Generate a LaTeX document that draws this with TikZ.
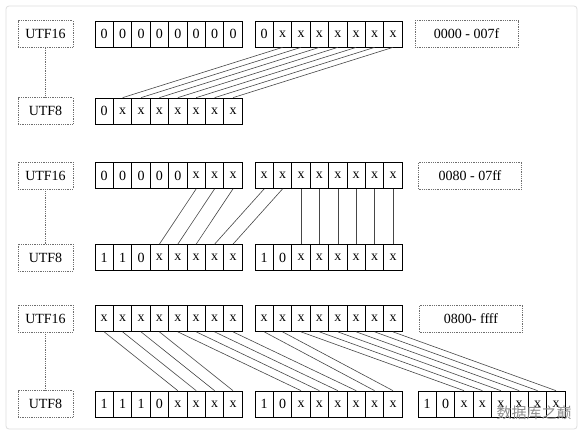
\documentclass[tikz,border=0pt]{standalone}
\usepackage{fontspec}
\setmainfont{Liberation Serif}
\newfontfamily\cjkfont{Noto Sans CJK SC}
\usetikzlibrary{positioning}
\definecolor{framegray}{RGB}{222,222,222}
\definecolor{wiregray}{RGB}{70,70,70}
\definecolor{dotgray}{RGB}{110,110,110}

\tikzset{
  cell/.style={draw=black, line width=0.7pt, minimum width=18.4pt,
               minimum height=26pt, inner sep=0pt, font=\fontsize{14}{16}\selectfont},
  tag/.style={draw=dotgray, densely dotted, line width=0.8pt, minimum height=27pt,
              inner sep=0pt, font=\fontsize{14}{16}\selectfont},
  wire/.style={draw=wiregray, line width=0.6pt}
}
% one byte = 8 cells, named #1-0 ... #1-7
\newcommand{\bytecells}[4]{%
  \foreach \v [count=\i from 0] in {#4}
    \node[cell] (#1-\i) at (#2+\i*18.4+9.2, #3) {\v};%
}

\begin{document}
\begin{tikzpicture}[x=1pt, y=-1pt]
  \useasboundingbox (0,0) rectangle (587,440);
  \draw[framegray, line width=0.8pt, rounded corners=3pt] (6,6) rectangle (577,429);

  % 0000 - 007f
  \node[tag, minimum width=55pt] (u16a) at (45.5,34) {UTF16};
  \node[tag, minimum width=55pt] (u8a) at (45.5,111) {UTF8};
  \bytecells{u1a}{95}{34}{0,0,0,0,0,0,0,0}
  \bytecells{u1b}{255}{34}{0,x,x,x,x,x,x,x}
  \node[tag, minimum width=103pt] (rnga) at (466.5,34) {0000 - 007f};
  \bytecells{e1a}{95}{111}{0,x,x,x,x,x,x,x}
  \draw[dotgray, densely dotted, line width=0.8pt] (u16a) -- (u8a);
  \foreach \i in {1,...,7}
    \draw[wire] (u1b-\i.south) -- (e1a-\i.north);

  % 0080 - 07ff
  \node[tag, minimum width=55pt] (u16b) at (45.5,175.5) {UTF16};
  \node[tag, minimum width=55pt] (u8b) at (45.5,257.5) {UTF8};
  \bytecells{u2a}{95}{175.5}{0,0,0,0,0,x,x,x}
  \bytecells{u2b}{255}{175.5}{x,x,x,x,x,x,x,x}
  \node[tag, minimum width=103pt] (rngb) at (470,175.5) {0080 - 07ff};
  \bytecells{e2a}{95}{257.5}{1,1,0,x,x,x,x,x}
  \bytecells{e2b}{255}{257.5}{1,0,x,x,x,x,x,x}
  \draw[dotgray, densely dotted, line width=0.8pt] (u16b) -- (u8b);
  \foreach \i/\j in {5/3,6/4,7/5}
    \draw[wire] (u2a-\i.south) -- (e2a-\j.north);
  \foreach \i/\j in {0/6,1/7}
    \draw[wire] (u2b-\i.south) -- (e2a-\j.north);
  \foreach \i in {2,...,7}
    \draw[wire] (u2b-\i.south) -- (e2b-\i.north);

  % 0800 - ffff
  \node[tag, minimum width=55pt] (u16c) at (45.5,318.5) {UTF16};
  \node[tag, minimum width=55pt] (u8c) at (45.5,404) {UTF8};
  \bytecells{u3a}{95}{318.5}{x,x,x,x,x,x,x,x}
  \bytecells{u3b}{255}{318.5}{x,x,x,x,x,x,x,x}
  \node[tag, minimum width=103pt] (rngc) at (471,318.5) {0800- ffff};
  \bytecells{e3a}{95}{404}{1,1,1,0,x,x,x,x}
  \bytecells{e3b}{255}{404}{1,0,x,x,x,x,x,x}
  \bytecells{e3c}{418}{404}{1,0,x,x,x,x,x,x}
  \draw[dotgray, densely dotted, line width=0.8pt] (u16c) -- (u8c);
  \foreach \i/\j in {0/4,1/5,2/6,3/7}
    \draw[wire] (u3a-\i.south) -- (e3a-\j.north);
  \foreach \i/\j in {4/2,5/3,6/4,7/5}
    \draw[wire] (u3a-\i.south) -- (e3b-\j.north);
  \foreach \i/\j in {0/6,1/7}
    \draw[wire] (u3b-\i.south) -- (e3b-\j.north);
  \foreach \i in {2,...,7}
    \draw[wire] (u3b-\i.south) -- (e3c-\i.north);

  \node[text=black!45, font=\cjkfont\fontsize{15}{17}\selectfont] (mark) at (534,413) {数据库之巅};
\end{tikzpicture}
\end{document}
